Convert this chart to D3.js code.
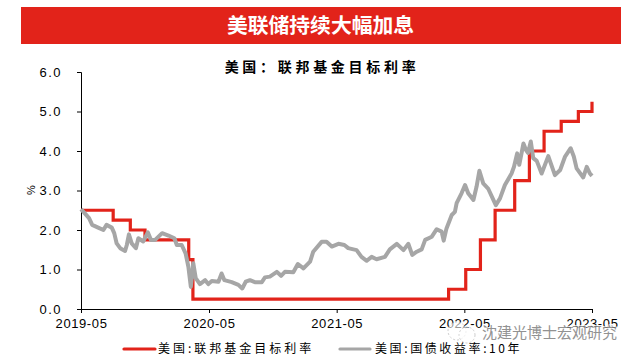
<!DOCTYPE html>
<html>
<head>
<meta charset="utf-8">
<script src="https://cdn.jsdelivr.net/npm/d3@7"></script>
<style>
    html, body { margin: 0; padding: 0; background: #fff; }
    svg { display: block; }
    text { font-family: "Liberation Sans", sans-serif; fill: #000; }
    .cjk { font-family: "Noto Sans CJK SC", sans-serif; }
</style>
</head>
<body>
<svg id="chart" width="636" height="360"></svg>
<script>
const pageTitle = "美联储持续大幅加息";
const chartTitle = "美国：联邦基金目标利率";
const seriesNames = ["美国:联邦基金目标利率", "美国:国债收益率:10年"];
const watermark = "沈建光博士宏观研究";
const unit = "%";

const yTicks = [0, 1, 2, 3, 4, 5, 6];
const xTicks = ["2019-05", "2020-05", "2021-05", "2022-05", "2023-05"];

// fed funds target, upper bound: value holds from each date on
const fedDates = ["2019-05-01", "2019-08-01", "2019-09-19", "2019-10-31", "2020-03-04", "2020-03-16",
    "2022-03-17", "2022-05-05", "2022-06-16", "2022-07-28", "2022-09-22", "2022-11-03",
    "2022-12-15", "2023-02-02", "2023-03-23", "2023-05-01"];
const fedValues = [2.5, 2.25, 2.0, 1.75, 1.25, 0.25, 0.5, 1.0, 1.75, 2.5, 3.25, 4.0, 4.5, 4.75, 5.0, 5.25];

// 10y treasury
const yieldDates = ["2019-05-01", "2019-05-12", "2019-05-24", "2019-06-02", "2019-06-19", "2019-07-04", "2019-07-13",
    "2019-07-28", "2019-08-04", "2019-08-11", "2019-08-21", "2019-09-04", "2019-09-09", "2019-09-15", "2019-09-23",
    "2019-10-05", "2019-10-12", "2019-10-26", "2019-11-08", "2019-11-17", "2019-11-29", "2019-12-19", "2020-01-06",
    "2020-01-23", "2020-01-30", "2020-02-13", "2020-02-24", "2020-03-03", "2020-03-10", "2020-03-17", "2020-03-24",
    "2020-04-05", "2020-04-20", "2020-04-29", "2020-05-09", "2020-05-28", "2020-06-06", "2020-06-14", "2020-07-05",
    "2020-07-24", "2020-08-04", "2020-08-14", "2020-08-26", "2020-09-09", "2020-09-29", "2020-10-08", "2020-10-22",
    "2020-11-11", "2020-11-23", "2020-12-04", "2020-12-28", "2021-01-10", "2021-01-26", "2021-02-14", "2021-02-23",
    "2021-03-19", "2021-04-02", "2021-04-17", "2021-05-06", "2021-05-23", "2021-06-03", "2021-06-27", "2021-07-11",
    "2021-07-26", "2021-08-09", "2021-08-23", "2021-09-16", "2021-09-30", "2021-10-20", "2021-11-08", "2021-11-22",
    "2021-12-03", "2021-12-16", "2021-12-30", "2022-01-09", "2022-01-28", "2022-02-11", "2022-02-25", "2022-03-03",
    "2022-03-11", "2022-03-26", "2022-04-04", "2022-04-09", "2022-04-23", "2022-05-03", "2022-05-12", "2022-05-27",
    "2022-06-05", "2022-06-13", "2022-06-24", "2022-07-08", "2022-07-21", "2022-07-30", "2022-08-11", "2022-08-25",
    "2022-09-13", "2022-09-20", "2022-09-29", "2022-10-05", "2022-10-17", "2022-10-24", "2022-10-30", "2022-11-07",
    "2022-11-14", "2022-11-24", "2022-12-08", "2022-12-27", "2023-01-15", "2023-01-30", "2023-02-13", "2023-03-01",
    "2023-03-10", "2023-03-18", "2023-04-06", "2023-04-16", "2023-04-25", "2023-05-01"];
const yieldValues = [2.53, 2.42, 2.30, 2.13, 2.06, 2.00, 2.13,
    2.06, 1.92, 1.66, 1.54, 1.47, 1.62, 1.89, 1.66,
    1.54, 1.79, 1.71, 1.94, 1.75, 1.75, 1.92, 1.86,
    1.79, 1.62, 1.62, 1.41, 1.07, 0.56, 1.16, 0.78,
    0.63, 0.73, 0.63, 0.71, 0.69, 0.90, 0.73, 0.68,
    0.61, 0.52, 0.69, 0.73, 0.68, 0.68, 0.80, 0.82,
    0.94, 0.84, 0.94, 0.93, 1.14, 1.03, 1.20, 1.45,
    1.70, 1.70, 1.58, 1.65, 1.62, 1.54, 1.49, 1.32,
    1.22, 1.32, 1.26, 1.32, 1.51, 1.65, 1.49, 1.65,
    1.37, 1.45, 1.51, 1.75, 1.83, 2.02, 1.96, 1.73,
    2.04, 2.38, 2.46, 2.68, 2.93, 3.14, 2.93, 2.76,
    3.10, 3.50, 3.18, 3.05, 2.80, 2.63, 2.80, 3.14,
    3.43, 3.60, 3.94, 3.65, 4.19, 4.03, 3.95, 4.24,
    3.82, 3.75, 3.43, 3.87, 3.39, 3.52, 3.86, 4.07,
    3.86, 3.56, 3.33, 3.60, 3.43, 3.37];

const RED = "#e2231a";
const GREY = "#a6a6a6";

const parseDay = d3.timeParse("%Y-%m-%d");
const parseMonth = d3.timeParse("%Y-%m");

const svg = d3.select("#chart");

// banner
svg.append("rect")
    .attr("x", 21).attr("y", 7)
    .attr("width", 600).attr("height", 37)
    .attr("fill", RED);
svg.append("text")
    .attr("class", "cjk")
    .attr("x", 320.5).attr("y", 33)
    .attr("text-anchor", "middle")
    .attr("font-size", 20.8)
    .attr("font-weight", 700)
    .style("fill", "#fff")
    .text(pageTitle);

svg.append("text")
    .attr("class", "cjk")
    .attr("x", 322).attr("y", 72)
    .attr("text-anchor", "middle")
    .attr("font-size", 14)
    .attr("font-weight", 700)
    .attr("letter-spacing", 3.7)
    .text(chartTitle);

const x = d3.scaleTime()
    .domain([parseMonth(xTicks[0]), parseMonth(xTicks[xTicks.length - 1])])
    .range([81, 592]);
const y = d3.scaleLinear()
    .domain([0, 6])
    .range([309, 72]);

const axisY = svg.append("g")
    .attr("transform", "translate(81,0)")
    .call(d3.axisLeft(y).tickValues(yTicks).tickFormat(d3.format(".1f")).tickSizeOuter(0).tickSize(4).tickPadding(15));
const axisX = svg.append("g")
    .attr("transform", "translate(0,309)")
    .call(d3.axisBottom(x).tickValues(xTicks.map(parseMonth)).tickFormat(d3.timeFormat("%Y-%m")).tickSizeOuter(0).tickSize(4).tickPadding(6));

[axisY, axisX].forEach(axis => {
    axis.selectAll("path, line").attr("stroke", "#000").attr("stroke-width", 1);
    axis.selectAll("text")
        .attr("font-size", 13)
        .attr("font-family", "Liberation Sans");
});
axisY.selectAll("text").attr("letter-spacing", 1.5);
axisX.selectAll("text").attr("letter-spacing", 0.6);

svg.append("text")
    .attr("transform", "translate(35,190) rotate(-90)")
    .attr("text-anchor", "middle")
    .attr("font-size", 11)
    .text(unit);

const fedLine = d3.line()
    .x((d, i) => x(parseDay(fedDates[i])))
    .y(d => y(d))
    .curve(d3.curveStepAfter);
const yieldLine = d3.line()
    .x((d, i) => x(parseDay(yieldDates[i])))
    .y(d => y(d));

svg.append("path")
    .attr("d", fedLine(fedValues))
    .attr("fill", "none")
    .attr("stroke", RED)
    .attr("stroke-width", 3.2);
svg.append("path")
    .attr("d", yieldLine(yieldValues))
    .attr("fill", "none")
    .attr("stroke", GREY)
    .attr("stroke-width", 4)
    .attr("stroke-linejoin", "round");

// legend
const legendItems = [
    {name: seriesNames[0], color: RED, x1: 124, x2: 155, tx: 158, spacing: 3},
    {name: seriesNames[1], color: GREY, x1: 340, x2: 370, tx: 375, spacing: 2.6}
];
const legend = svg.selectAll(".legend")
    .data(legendItems)
    .enter()
    .append("g")
    .attr("class", "legend");
legend.append("line")
    .attr("x1", d => d.x1).attr("x2", d => d.x2)
    .attr("y1", 349).attr("y2", 349)
    .attr("stroke", d => d.color)
    .attr("stroke-width", 3.2)
    .attr("stroke-linecap", "round");
legend.append("text")
    .attr("class", "cjk")
    .attr("x", d => d.tx)
    .attr("y", 353)
    .attr("font-size", 12)
    .attr("letter-spacing", d => d.spacing)
    .text(d => d.name);

// watermark: logo circles and text sitting over the axis labels
const mark = svg.append("g").attr("opacity", 0.85);
[[457, 331, 9], [467, 335, 8]].forEach(c => {
    mark.append("circle")
        .attr("cx", c[0]).attr("cy", c[1]).attr("r", c[2])
        .attr("fill", "#fff")
        .attr("fill-opacity", 0.7)
        .attr("stroke", "#c8c8c8")
        .attr("stroke-dasharray", "2 2");
});
mark.append("text")
    .attr("class", "cjk")
    .attr("x", 482).attr("y", 338)
    .attr("font-size", 15)
    .attr("paint-order", "stroke")
    .attr("stroke", "#fff")
    .attr("stroke-width", 1.5)
    .style("fill", "#808080")
    .text(watermark);
</script>
</body>
</html>
